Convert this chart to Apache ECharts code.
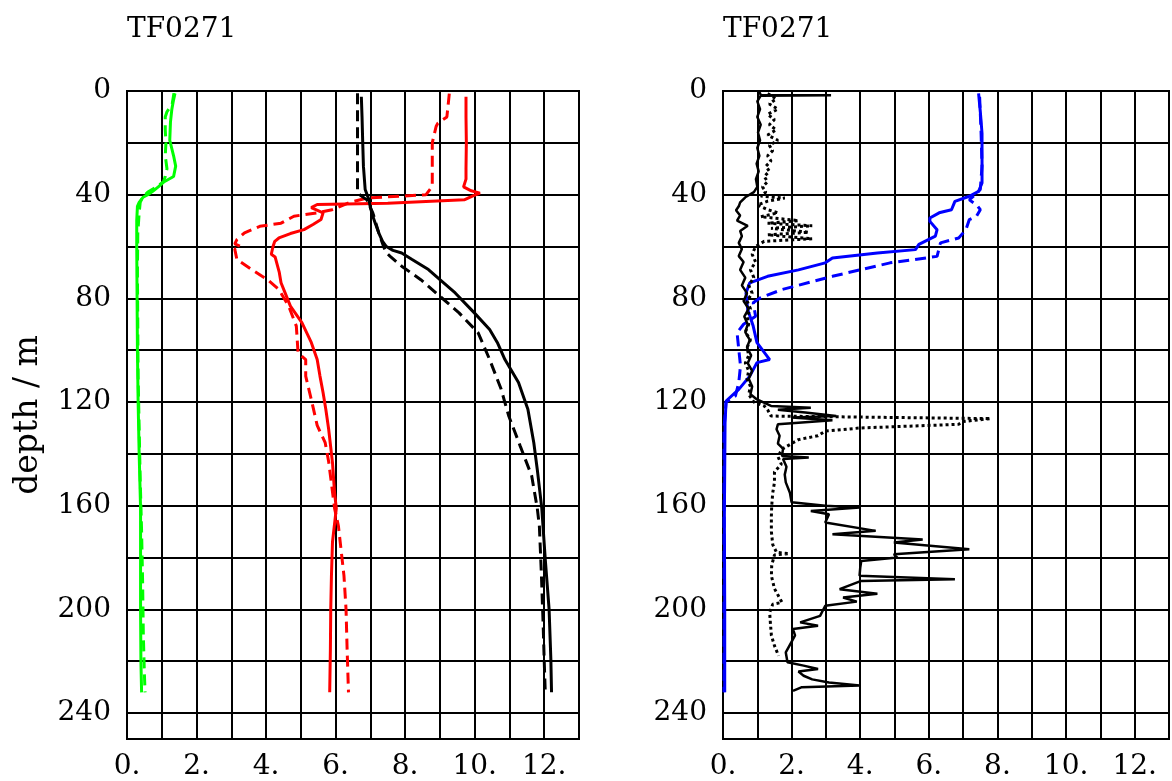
<!DOCTYPE html>
<html lang="en">
<head>
    <meta charset="UTF-8">
    <title>TF0271</title>
    <script src="https://cdn.jsdelivr.net/npm/echarts@6/dist/echarts.min.js"></script>
    <style>
        body { margin: 0; background: #fff; }
    </style>
</head>
<body>
    <div id="main" style="width: 1172px;height: 781px;"></div>
    <script>
        // depth (m) and value pairs
        var greenSolidDepth = [0.9, 4, 7, 12, 19, 25, 29, 33, 35, 37, 38.7, 40, 41, 43, 44.5, 50, 60, 80, 100, 120, 140, 161, 180, 200, 220, 232]
        var greenSolidVal = [1.38, 1.33, 1.29, 1.25, 1.23, 1.34, 1.40, 1.34, 1.07, 0.9, 0.74, 0.6, 0.46, 0.35, 0.30, 0.28, 0.28, 0.29, 0.30, 0.32, 0.35, 0.39, 0.39, 0.39, 0.40, 0.42]

        var greenDashDepth = [0.9, 5, 8, 10, 15, 20, 25, 30, 33, 35, 37, 39, 41, 43, 47, 55, 70, 90, 110, 130, 150, 170, 190, 210, 225, 232]
        var greenDashVal = [1.35, 1.3, 1.15, 1.1, 1.1, 1.12, 1.1, 1.15, 1.1, 1.05, 0.85, 0.6, 0.45, 0.38, 0.35, 0.31, 0.30, 0.31, 0.32, 0.35, 0.38, 0.42, 0.45, 0.47, 0.5, 0.52]

        var redSolidDepth = [2.2, 10, 20, 30, 34, 37, 38.5, 39.4, 40.5, 42, 43.3, 43.8, 45, 47, 49.6, 51.5, 53.5, 55, 56.7, 58, 60, 63, 64, 66, 70, 74, 78, 83, 89.4, 97, 103.6, 110, 116.4, 123, 130.5, 143.4, 155, 161, 174, 187, 200, 215, 232]
        var redSolidVal = [9.75, 9.75, 9.76, 9.75, 9.75, 9.68, 9.9, 10.15, 9.95, 9.7, 7.5, 5.47, 5.3, 5.64, 5.58, 5.35, 5.09, 4.7, 4.37, 4.25, 4.2, 4.15, 4.26, 4.3, 4.38, 4.43, 4.55, 4.7, 5.03, 5.3, 5.47, 5.55, 5.64, 5.72, 5.8, 5.91, 5.97, 6.02, 5.91, 5.88, 5.86, 5.85, 5.83]

        var redDashDepth = [1, 10, 12.4, 13.7, 20, 30, 36.8, 40, 41.3, 43, 45.8, 47, 48.3, 51, 52.2, 54.7, 57.3, 59, 60, 61, 65, 69, 72.8, 76.6, 83, 90.7, 101, 103.6, 110, 119, 129, 135.7, 143, 161, 167.8, 187, 200, 215, 232]
        var redDashVal = [9.27, 9.2, 8.94, 8.89, 8.78, 8.78, 8.78, 8.6, 6.9, 6.4, 5.9, 5.47, 4.8, 4.43, 3.82, 3.38, 3.16, 3.1, 3.27, 3.1, 3.16, 3.6, 4.04, 4.37, 4.65, 4.87, 4.92, 5.14, 5.14, 5.3, 5.47, 5.7, 5.8, 5.97, 6.08, 6.24, 6.3, 6.33, 6.37]

        var blackSolidDepth = [2.2, 10, 20, 29, 38, 42, 45, 48.3, 51, 54.7, 58, 60, 61.5, 62.5, 65, 68.9, 72.8, 77.9, 85.6, 92, 97, 103.6, 112.5, 122.8, 135.7, 146, 161, 180.7, 200, 219, 232]
        var blackSolidVal = [6.74, 6.76, 6.78, 6.8, 6.85, 6.96, 7.0, 7.07, 7.14, 7.24, 7.35, 7.46, 7.65, 7.9, 8.2, 8.67, 9.0, 9.44, 9.99, 10.43, 10.65, 10.87, 11.26, 11.53, 11.7, 11.8, 11.93, 12.03, 12.14, 12.19, 12.21]

        var blackDashDepth = [0.9, 10, 20, 30, 39.4, 42, 47, 54.7, 60, 62.4, 63.8, 67.6, 72.8, 79.2, 85.6, 93.3, 103.6, 115, 125.4, 137, 148.5, 161, 167.8, 187, 206.3, 220, 232]
        var blackDashVal = [6.63, 6.63, 6.63, 6.63, 6.63, 6.9, 7.07, 7.24, 7.38, 7.46, 7.57, 7.9, 8.45, 9.0, 9.55, 10.1, 10.43, 10.76, 10.98, 11.31, 11.64, 11.8, 11.86, 11.92, 11.97, 12.0, 12.03]

        var blueSolidDepth = [0.9, 8, 16.3, 25, 35.5, 38.7, 40.6, 42.6, 45.8, 47, 49, 50.3, 53.5, 56, 59.2, 61.2, 62.5, 64.4, 66.3, 69, 71.5, 74, 77.9, 84.3, 90.7, 97.1, 103.6, 104.8, 110, 115.1, 119.6, 128, 164, 200, 232]
        var blueSolidVal = [7.45, 7.5, 7.55, 7.55, 7.55, 7.45, 7.18, 6.76, 6.66, 6.3, 6.03, 6.03, 6.24, 6.19, 5.71, 5.61, 4.5, 3.19, 2.98, 2.2, 1.3, 0.78, 0.67, 0.72, 0.88, 0.99, 1.36, 0.99, 0.78, 0.46, 0.09, 0.06, 0.04, 0.05, 0.05]

        var blueDashDepth = [2.2, 15, 29, 38, 40, 42, 44, 45.8, 48.3, 49.6, 53.5, 56.7, 58.6, 61.2, 63.8, 66.3, 71.5, 76.6, 79.8, 81.7, 86.9, 90, 93.3, 99.7, 106, 112.5, 117.7, 120, 130, 232]
        var blueDashVal = [7.48, 7.52, 7.55, 7.5, 7.35, 7.18, 7.4, 7.5, 7.39, 7.18, 7.08, 6.87, 6.34, 6.29, 6.24, 4.87, 3.19, 1.72, 1.09, 0.88, 0.95, 0.6, 0.41, 0.46, 0.51, 0.46, 0.36, 0.09, 0.03, 0.03]

        var inkSolidDepth = [0, 1.5, 1.6, 1.8, 4, 7, 10, 13, 16, 19, 22, 25, 28, 31, 34, 37, 39, 41, 43, 44.5, 46, 48, 50, 52, 54, 56, 58.6, 61, 63.7, 66, 69, 72, 75, 78, 81, 84, 87, 90, 93, 96, 99, 102, 105, 108, 111, 114, 117, 119, 121.5, 122.2, 123, 124, 125.4, 126, 127, 128, 128.6, 130.5, 133, 136, 138, 140.8, 141.4, 142, 145, 148, 151, 155, 158.7, 160, 160.7, 161.4, 162, 163.3, 166.5, 169.7, 171, 173, 174.2, 176.8, 178.7, 180, 181.3, 184, 187, 188.4, 189, 192.2, 194, 195.4, 197, 198.6, 202.5, 205, 206.3, 207.6, 210, 212.7, 216.6, 220.4, 221.7, 223, 224, 225.6, 227, 228.2, 229.4, 230, 231.4]
        var inkSolidVal = [1.05, 1.1, 3.15, 1.1, 1.0, 1.08, 1.0, 1.1, 1.02, 1.08, 1.0, 1.06, 0.98, 1.04, 0.96, 1.0, 0.9, 0.65, 0.5, 0.46, 0.38, 0.5, 0.41, 0.72, 0.5, 0.55, 0.46, 0.55, 0.46, 0.6, 0.5, 0.65, 0.55, 0.7, 0.6, 0.75, 0.62, 0.72, 0.65, 0.78, 0.7, 0.82, 0.72, 0.85, 0.75, 0.85, 0.8, 0.99, 1.4, 2.56, 1.6, 2.4, 3.3, 2.0, 3.19, 2.2, 1.6, 1.56, 1.65, 1.6, 1.75, 1.72, 2.5, 1.75, 1.85, 1.8, 1.83, 1.95, 2.0, 2.98, 3.98, 3.93, 2.56, 3.09, 2.98, 4.45, 3.19, 5.82, 4.98, 7.18, 4.98, 5.08, 4.03, 4.0, 3.98, 6.76, 4.03, 3.4, 4.5, 3.5, 3.9, 2.98, 2.83, 2.25, 2.77, 2.04, 2.1, 1.99, 1.83, 1.88, 2.35, 2.77, 2.2, 2.35, 2.6, 3.09, 3.98, 2.3, 2.04]

        var inkDotDepth = [1, 3, 5, 7, 9, 11, 13, 15, 17, 19, 21, 23, 25, 27, 29, 31, 33, 35, 37, 39, 40.5, 41.3, 42.5, 44, 45.8, 47, 48.5, 50, 51, 52, 53, 54.5, 55.5, 57, 58, 60, 63, 66, 69, 72, 75, 78, 81, 84, 87, 90, 93, 96, 99, 102, 105, 108, 111, 114, 117, 120, 121.5, 123, 125.4, 126.4, 127.5, 128.6, 130, 131.2, 133, 134.5, 135.7, 138.2, 141, 144, 147, 151, 155, 160, 164, 170, 175, 178, 178.5, 179, 183, 187, 192, 197.3, 198, 201.2, 205, 210, 214, 217.9]
        var inkDotVal = [1.3, 1.55, 1.35, 1.6, 1.3, 1.5, 1.35, 1.55, 1.3, 1.6, 1.35, 1.45, 1.3, 1.4, 1.25, 1.35, 1.2, 1.3, 1.15, 1.25, 1.1, 1.8, 1.3, 1.0, 1.3, 1.6, 1.1, 2.2, 1.3, 2.6, 1.4, 2.5, 1.3, 2.6, 1.2, 0.95, 0.85, 0.95, 0.8, 0.9, 0.75, 0.85, 0.7, 0.8, 0.7, 0.75, 0.65, 0.8, 0.7, 0.75, 0.65, 0.75, 0.7, 0.8, 0.75, 0.9, 1.2, 1.3, 1.4, 7.8, 7.0, 6.87, 4.0, 2.98, 2.77, 2.2, 2.04, 1.72, 1.6, 1.7, 1.5, 1.5, 1.45, 1.42, 1.41, 1.41, 1.45, 1.56, 1.93, 1.5, 1.42, 1.41, 1.5, 1.72, 1.45, 1.36, 1.38, 1.41, 1.5, 1.62]

        var titleText = 'TF0271'
        var depthName = 'depth / m'

        function pairs(vals, depths) {
            return vals.map(function (v, i) { return [v, depths[i]] })
        }

        var font = 'DejaVu Serif'
        var dash = [11, 6]

        function xAx(idx) {
            return {
                gridIndex: idx, type: 'value', min: 0, max: 13, interval: 1,
                axisLine: { show: false }, axisTick: { show: false },
                splitLine: { show: true, lineStyle: { color: '#000', width: 2 } },
                axisLabel: {
                    margin: 14, color: '#000', fontFamily: font, fontSize: 28,
                    formatter: function (v) { return v % 2 === 0 ? v + '.' : '' }
                }
            }
        }
        function yAx(idx, name) {
            return {
                gridIndex: idx, type: 'value', min: 0, max: 250, interval: 20, inverse: true,
                name: name, nameLocation: 'middle', nameGap: 82, nameRotate: 90,
                nameTextStyle: { color: '#000', fontFamily: font, fontSize: 33 },
                axisLine: { show: false }, axisTick: { show: false },
                splitLine: { show: true, lineStyle: { color: '#000', width: 2 } },
                axisLabel: {
                    margin: 16, color: '#000', fontFamily: font, fontSize: 28,
                    formatter: function (v) { return v % 40 === 0 ? String(v) : '' }
                }
            }
        }
        function line(idx, vals, depths, color, type, w) {
            return {
                type: 'line', xAxisIndex: idx, yAxisIndex: idx,
                data: pairs(vals, depths), showSymbol: false, animation: false,
                lineStyle: { color: color, width: w || 3, type: type }
            }
        }

        var myCharts = echarts.init(document.getElementById('main'))
        var option = {
            backgroundColor: '#fff',
            title: [
                { text: titleText, left: 127, top: 16, padding: 0, textStyle: { fontFamily: font, fontSize: 28, fontWeight: 'normal', color: '#000' } },
                { text: titleText, left: 723, top: 16, padding: 0, textStyle: { fontFamily: font, fontSize: 28, fontWeight: 'normal', color: '#000' } }
            ],
            grid: [
                { left: 127, top: 91, width: 452, height: 648, show: true, borderColor: '#000', borderWidth: 2 },
                { left: 723, top: 91, width: 452, height: 648, show: true, borderColor: '#000', borderWidth: 2 }
            ],
            xAxis: [xAx(0), xAx(1)],
            yAxis: [yAx(0, depthName), yAx(1, '')],
            series: [
                line(0, greenSolidVal, greenSolidDepth, '#00ff00', 'solid'),
                line(0, greenDashVal, greenDashDepth, '#00ff00', dash),
                line(0, redSolidVal, redSolidDepth, '#ff0000', 'solid'),
                line(0, redDashVal, redDashDepth, '#ff0000', dash),
                line(0, blackSolidVal, blackSolidDepth, '#000', 'solid'),
                line(0, blackDashVal, blackDashDepth, '#000', dash),
                line(1, blueSolidVal, blueSolidDepth, '#0000ff', 'solid'),
                line(1, blueDashVal, blueDashDepth, '#0000ff', dash),
                line(1, inkSolidVal, inkSolidDepth, '#000', 'solid', 2.5),
                line(1, inkDotVal, inkDotDepth, '#000', [3, 3], 3)
            ]
        }
        myCharts.setOption(option)
    </script>
</body>
</html>
